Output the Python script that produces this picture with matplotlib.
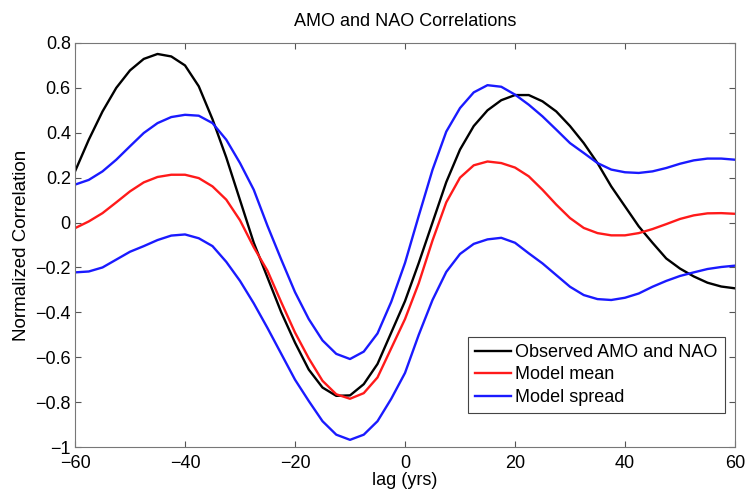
import matplotlib
matplotlib.use('Agg')
import matplotlib.pyplot as plt

plt.rcParams['font.family'] = ['Liberation Sans', 'DejaVu Sans']

# lag in years
lag = [-60, -57.5, -55, -52.5, -50, -47.5, -45, -42.5, -40, -37.5,
       -35, -32.5, -30, -27.5, -25, -22.5, -20, -17.5, -15, -12.5,
       -10, -7.5, -5, -2.5, 0, 2.5, 5, 7.5, 10, 12.5,
       15, 17.5, 20, 22.5, 25, 27.5, 30, 32.5, 35, 37.5,
       40, 42.5, 45, 47.5, 50, 52.5, 55, 57.5, 60]

observed = [0.228, 0.369, 0.495, 0.600, 0.678, 0.729, 0.751, 0.740, 0.700, 0.607,
            0.460, 0.290, 0.100, -0.090, -0.245, -0.400, -0.535, -0.655, -0.735, -0.772,
            -0.770, -0.720, -0.630, -0.490, -0.350, -0.180, 0.000, 0.180, 0.325, 0.430,
            0.500, 0.545, 0.568, 0.568, 0.540, 0.495, 0.430, 0.354, 0.265, 0.161,
            0.072, -0.017, -0.090, -0.160, -0.205, -0.240, -0.268, -0.285, -0.293]

model_mean = [-0.025, 0.005, 0.042, 0.090, 0.139, 0.179, 0.203, 0.213, 0.213, 0.198,
              0.161, 0.102, 0.010, -0.110, -0.215, -0.355, -0.490, -0.605, -0.705, -0.765,
              -0.785, -0.760, -0.690, -0.560, -0.430, -0.270, -0.080, 0.090, 0.200, 0.255,
              0.272, 0.265, 0.245, 0.206, 0.146, 0.080, 0.020, -0.024, -0.047, -0.057,
              -0.057, -0.047, -0.029, -0.007, 0.016, 0.032, 0.041, 0.042, 0.039]

spread_hi = [0.169, 0.190, 0.228, 0.280, 0.340, 0.399, 0.443, 0.470, 0.480, 0.476,
             0.443, 0.369, 0.265, 0.146, -0.015, -0.165, -0.310, -0.430, -0.525, -0.585,
             -0.608, -0.575, -0.494, -0.353, -0.180, 0.030, 0.235, 0.405, 0.510, 0.580,
             0.612, 0.605, 0.570, 0.525, 0.473, 0.414, 0.354, 0.310, 0.265, 0.236,
             0.224, 0.221, 0.228, 0.243, 0.262, 0.277, 0.285, 0.285, 0.280]

spread_lo = [-0.222, -0.218, -0.200, -0.165, -0.130, -0.105, -0.078, -0.058, -0.053, -0.070,
             -0.105, -0.175, -0.260, -0.360, -0.470, -0.585, -0.700, -0.795, -0.885, -0.945,
             -0.968, -0.945, -0.885, -0.785, -0.670, -0.500, -0.345, -0.220, -0.140, -0.095,
             -0.075, -0.068, -0.090, -0.137, -0.182, -0.234, -0.286, -0.323, -0.341, -0.345,
             -0.335, -0.316, -0.286, -0.260, -0.238, -0.222, -0.207, -0.198, -0.192]

fig = plt.figure(figsize=(7.48, 4.94), dpi=100)
ax = fig.add_axes([0.1003, 0.0951, 0.8823, 0.8179])

ax.plot(lag, observed, color='black', lw=1.7, label='Observed AMO and NAO')
ax.plot(lag, model_mean, color='#ff1a1a', lw=1.7, label='Model mean')
ax.plot(lag, spread_hi, color='#1a1aff', lw=1.7, label='Model spread')
ax.plot(lag, spread_lo, color='#1a1aff', lw=1.7)

ax.set_xlim(-60, 60)
ax.set_ylim(-1, 0.8)
ax.set_xticks([-60, -40, -20, 0, 20, 40, 60])
ax.set_yticks([-1, -0.8, -0.6, -0.4, -0.2, 0, 0.2, 0.4, 0.6, 0.8])
ax.set_yticklabels(['\u22121', '\u22120.8', '\u22120.6', '\u22120.4', '\u22120.2',
                    '0', '0.2', '0.4', '0.6', '0.8'])
ax.set_xticklabels(['\u221260', '\u221240', '\u221220', '0', '20', '40', '60'])
ax.tick_params(direction='in', top=True, right=True, labelsize=13,
               length=4, color='#555555')
ax.tick_params(axis='x', pad=6)
ax.tick_params(axis='y', pad=3)
for s in ax.spines.values():
    s.set_color('#777777')

ax.set_title('AMO and NAO Correlations', fontsize=13, pad=12)
ax.set_xlabel('lag (yrs)', fontsize=13, labelpad=0)
ax.set_ylabel('Normalized Correlation', fontsize=13.5, labelpad=4)

leg = ax.legend(loc='lower right', bbox_to_anchor=(0.985, 0.084), fontsize=13,
                fancybox=False, framealpha=1, edgecolor='#444444',
                handlelength=2.0, handletextpad=0.25, borderpad=0.4,
                labelspacing=0.3, borderaxespad=0)
leg.get_frame().set_linewidth(0.8)

fig.savefig('out.png', dpi=100)
